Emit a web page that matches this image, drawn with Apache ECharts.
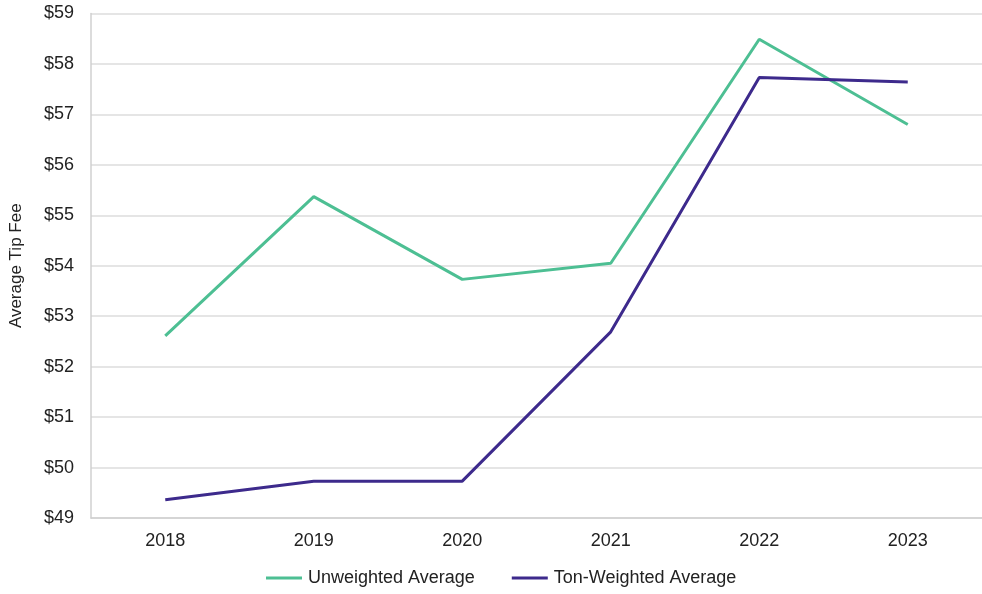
<!DOCTYPE html>
<html>
<head>
<meta charset="utf-8">
<script src="https://cdn.jsdelivr.net/npm/echarts@6/dist/echarts.min.js"></script>
<style>
  html, body { margin: 0; padding: 0; background: #fff; }
  #chart { width: 982px; height: 594px; }
</style>
</head>
<body>
<div id="chart"></div>
<script>
// categories and values
const years = ['2018', '2019', '2020', '2021', '2022', '2023'];
const unweighted = [52.61, 55.37, 53.73, 54.05, 58.49, 56.80];
const tonWeighted = [49.36, 49.73, 49.73, 52.69, 57.73, 57.64];

const chart = echarts.init(document.getElementById('chart'), null, { renderer: 'canvas' });

const font = 'Liberation Sans, Arial, sans-serif';

chart.setOption({
  animation: false,
  textStyle: { fontFamily: font },
  grid: { left: 89, top: 13.5, width: 903, height: 504.5 },
  legend: {
    bottom: 2,
    left: 261,
    itemWidth: 36,
    itemHeight: 3,
    itemGap: 37,
    icon: 'rect',
    textStyle: { fontSize: 18, color: '#222', fontFamily: font, padding: [0, 0, 0, 1] },
    data: ['Unweighted Average', 'Ton-Weighted Average']
  },
  xAxis: {
    type: 'category',
    data: years,
    boundaryGap: true,
    axisLine: { lineStyle: { color: '#d0d0d0', width: 1.5 } },
    axisTick: { show: false },
    axisLabel: { fontSize: 18, color: '#222', margin: 14 }
  },
  yAxis: {
    type: 'value',
    min: 49,
    max: 59,
    interval: 1,
    name: 'Average Tip Fee',
    nameLocation: 'middle',
    nameGap: 66,
    nameTextStyle: { fontSize: 17, color: '#222' },
    axisLine: { show: true, lineStyle: { color: '#d0d0d0', width: 1.5 } },
    axisTick: { show: false },
    axisLabel: { fontSize: 18, color: '#222', margin: 17, formatter: v => '$' + v },
    splitLine: { lineStyle: { color: '#dcdcdc', width: 1.5 } }
  },
  series: [
    {
      name: 'Unweighted Average',
      type: 'line',
      data: unweighted,
      symbol: 'none',
      lineStyle: { color: '#4dbf93', width: 3 },
      itemStyle: { color: '#4dbf93' }
    },
    {
      name: 'Ton-Weighted Average',
      type: 'line',
      data: tonWeighted,
      symbol: 'none',
      lineStyle: { color: '#3d2a8c', width: 3 },
      itemStyle: { color: '#3d2a8c' }
    }
  ]
});
</script>
</body>
</html>
